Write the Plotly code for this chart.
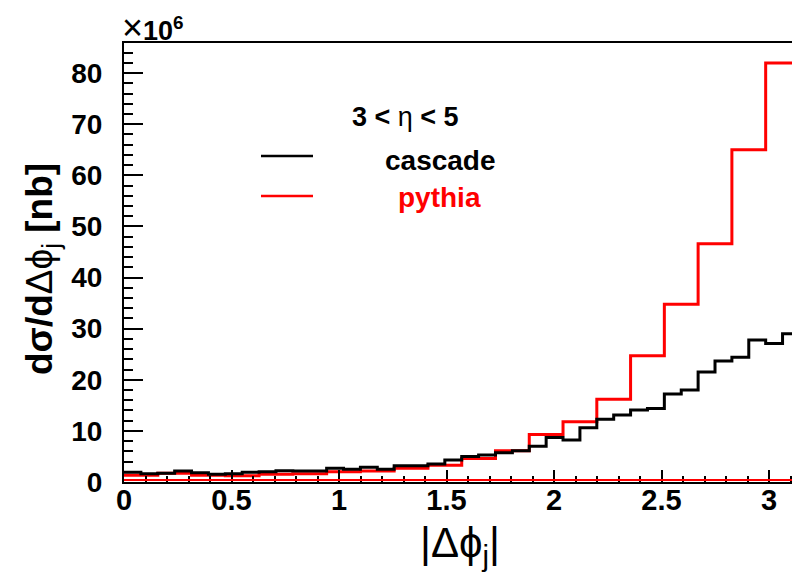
import math
import plotly.graph_objects as go

# ---- data (values in units of 10^6 nb) ----
phi_max = math.pi
cascade_nbins = 40
cascade_vals = [1.9, 1.6, 1.7, 2.15, 1.8, 1.5, 1.6, 1.9, 2.0, 2.2,
                2.15, 2.15, 2.7, 2.5, 2.9, 2.5, 3.2, 3.2, 3.5, 4.3,
                5.0, 5.3, 5.7, 6.1, 7.0, 8.7, 8.2, 10.6, 12.3, 13.1,
                14.1, 14.4, 17.2, 18.0, 21.5, 23.7, 24.4, 27.8, 27.1, 29.0]
pythia_nbins = 20
pythia_vals = [1.3, 1.7, 1.3, 1.2, 1.5, 1.6, 2.0, 2.15, 2.7, 3.3,
               4.6, 6.1, 9.3, 11.8, 16.2, 24.7, 34.8, 46.6, 65.0, 82.0]
x_ticks = [0, 0.5, 1, 1.5, 2, 2.5, 3]
x_ticklabels = ["0", "0.5", "1", "1.5", "2", "2.5", "3"]
y_ticks = [0, 10, 20, 30, 40, 50, 60, 70, 80]
y_ticklabels = ["0", "10", "20", "30", "40", "50", "60", "70", "80"]


def hist_xy(vals, nbins):
    w = phi_max / nbins
    xs = [i * w for i in range(nbins + 1)]
    ys = list(vals) + [vals[-1]]
    return xs, ys


W, H = 792, 584
ML, MR, MT, MB = 124, 0, 43, 102
PW, PH = W - ML - MR, H - MT - MB
XR = [0, 3.107]
YR = [0, 85.9]


def px(x):
    return (x - ML) / PW


def py(y):
    return (H - MB - y) / PH


SANS = "Liberation Sans, Arial, Helvetica"

fig = go.Figure()
xp, yp = hist_xy(pythia_vals, pythia_nbins)
xc, yc = hist_xy(cascade_vals, cascade_nbins)
fig.add_trace(go.Scatter(x=xp, y=yp, mode="lines", line=dict(color="#ff0000", width=3, shape="hv"),
                         showlegend=False, hoverinfo="skip"))
fig.add_trace(go.Scatter(x=xc, y=yc, mode="lines", line=dict(color="#000000", width=3, shape="hv"),
                         showlegend=False, hoverinfo="skip"))

# red baseline just above x axis
fig.add_shape(type="line", xref="x", yref="y", x0=0, x1=phi_max,
              ysizemode="pixel", yanchor=0, y0=2, y1=2,
              line=dict(color="#ff0000", width=2))

fig.update_layout(
    width=W, height=H,
    margin=dict(l=ML, r=MR, t=MT, b=MB, pad=0),
    paper_bgcolor="white", plot_bgcolor="white",
    showlegend=False,
    xaxis=dict(range=XR, showgrid=False, zeroline=False,
               showline=True, linecolor="black", linewidth=2, mirror=True,
               ticks="inside", ticklen=12, tickwidth=1.5, tickcolor="black",
               tickvals=x_ticks, ticktext=x_ticklabels,
               tickfont=dict(family=SANS, size=29, color="black", weight="bold"),
               ticklabelstandoff=-9,
               minor=dict(ticks="inside", ticklen=6, tickwidth=1.5, tickcolor="black", dtick=0.1, showgrid=False)),
    yaxis=dict(range=YR, showgrid=False, zeroline=False,
               showline=True, linecolor="black", linewidth=2, mirror=False,
               ticks="inside", ticklen=19, tickwidth=1.5, tickcolor="black",
               tickvals=y_ticks, ticktext=y_ticklabels,
               tickfont=dict(family=SANS, size=28, color="black", weight="bold"),
               ticklabelstandoff=14,
               minor=dict(ticks="inside", ticklen=9, tickwidth=1.5, tickcolor="black", dtick=2, showgrid=False)),
)

ann = []
# x10^6
ann.append(dict(text="<span style='font-size:36px'>×</span><b>10</b><sup><b>6</b></sup>", x=px(120), y=py(27),
                xref="paper", yref="paper",
                xanchor="left", yanchor="middle", showarrow=False,
                font=dict(family=SANS, size=27, color="black")))
# y title
ann.append(dict(text="<b>dσ/d</b>Δϕ<sub>j</sub><b> [nb]</b>", x=px(42), y=py(269), xref="paper", yref="paper",
                xanchor="center", yanchor="middle", textangle=-90, showarrow=False,
                font=dict(family=SANS, size=37, color="black")))
# x title
ann.append(dict(text="|Δϕ<sub>j</sub>|", x=px(460), y=py(545), xref="paper", yref="paper",
                xanchor="center", yanchor="middle", showarrow=False,
                font=dict(family=SANS, size=42, color="black")))
# legend
ann.append(dict(text="<b>3 &lt; </b>η<b> &lt; 5</b>", x=px(405), y=py(117), xref="paper", yref="paper",
                xanchor="center", yanchor="middle", showarrow=False,
                font=dict(family=SANS, size=27, color="black")))
ann.append(dict(text="<b>cascade</b>", x=px(440), y=py(160), xref="paper", yref="paper",
                xanchor="center", yanchor="middle", showarrow=False,
                font=dict(family=SANS, size=28, color="black")))
ann.append(dict(text="<b>pythia</b>", x=px(439), y=py(197), xref="paper", yref="paper",
                xanchor="center", yanchor="middle", showarrow=False,
                font=dict(family=SANS, size=28, color="#ff0000")))
fig.update_layout(annotations=ann)

fig.add_shape(type="line", xref="paper", yref="paper", x0=px(261), x1=px(313), y0=py(156), y1=py(156),
              line=dict(color="black", width=2.5))
fig.add_shape(type="line", xref="paper", yref="paper", x0=px(261), x1=px(313), y0=py(196), y1=py(196),
              line=dict(color="#ff0000", width=2.5))

fig.write_html("out.html")
